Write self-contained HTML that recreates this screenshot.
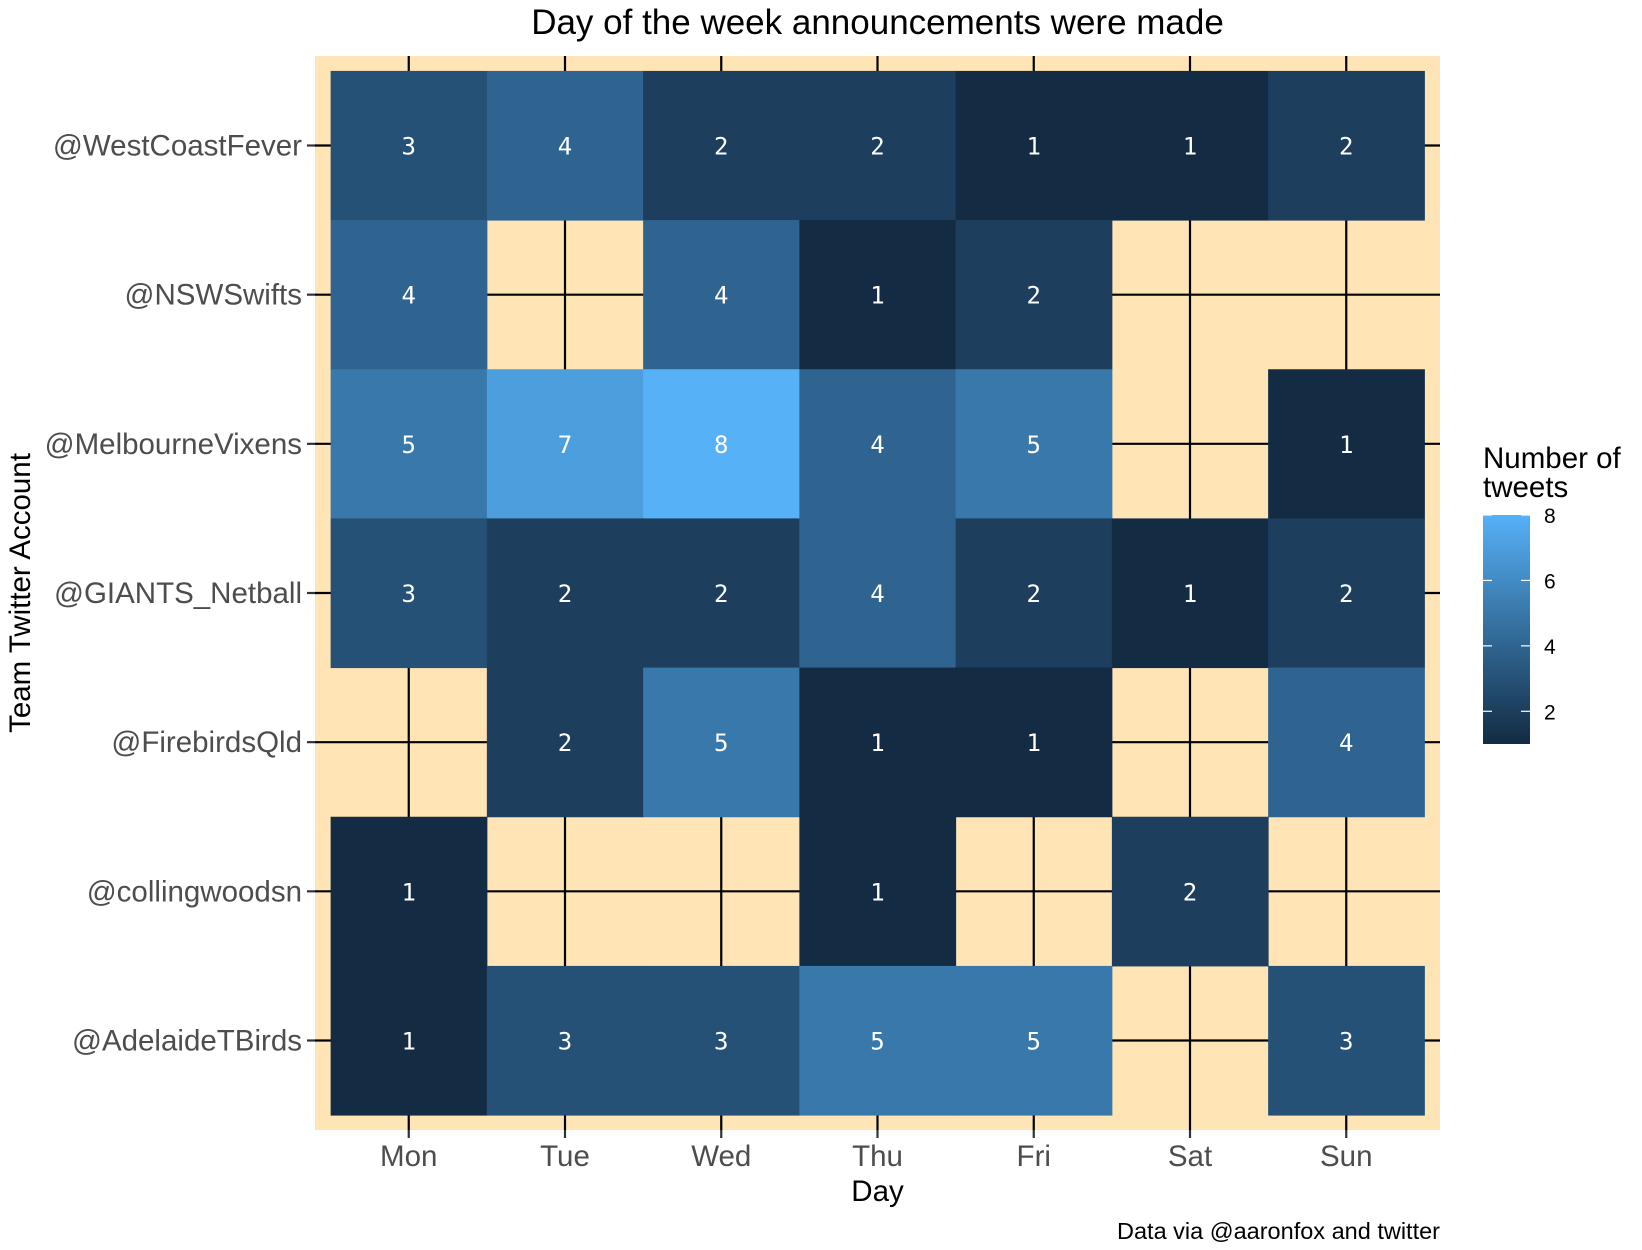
<!DOCTYPE html>
<html><head><meta charset="utf-8"><style>
html,body{margin:0;padding:0;background:#fff;width:1642px;height:1250px;overflow:hidden}
svg{display:block}
</style></head><body>
<svg id="chart" width="1642" height="1250" xmlns="http://www.w3.org/2000/svg"></svg>
<script>
const days = ["Mon","Tue","Wed","Thu","Fri","Sat","Sun"];
const teams = ["@WestCoastFever","@NSWSwifts","@MelbourneVixens","@GIANTS_Netball","@FirebirdsQld","@collingwoodsn","@AdelaideTBirds"];
const rowWestCoast = [3,4,2,2,1,1,2];
const rowNSW = [4,null,4,1,2,null,null];
const rowVixens = [5,7,8,4,5,null,1];
const rowGiants = [3,2,2,4,2,1,2];
const rowFirebirds = [null,2,5,1,1,null,4];
const rowCollingwood = [1,null,null,1,null,2,null];
const rowAdelaide = [1,3,3,5,5,null,3];
const legendTicks = [2,4,6,8];
const rows = [rowWestCoast,rowNSW,rowVixens,rowGiants,rowFirebirds,rowCollingwood,rowAdelaide];
const vmin = 1, vmax = 8;

const NS = "http://www.w3.org/2000/svg";
const svg = document.getElementById('chart');
function mk(tag, attrs, parent){const e=document.createElementNS(NS,tag);for(const k in attrs)e.setAttribute(k,attrs[k]);(parent||svg).appendChild(e);return e;}

const P = {l:315, t:56, r:1440, b:1130};
const colW = (P.r-P.l)/7.2, rowH = (P.b-P.t)/7.2;
const xc = i => P.l + (0.6+i)*colW;
const yc = j => P.t + (0.6+j)*rowH;
const c0=[0x13,0x2B,0x43], c1=[0x56,0xB1,0xF7];
function col(v){const t=(v-vmin)/(vmax-vmin);return 'rgb('+c0.map((a,k)=>Math.round(a+(c1[k]-a)*t)).join(',')+')';}

const panel = mk('rect',{x:P.l,y:P.t,width:P.r-P.l,height:P.b-P.t,fill:'#FFE4B5'});


const ff = '"Liberation Sans", Arial, sans-serif';
days.forEach((d,i)=>{
  const g = mk('line',{x1:xc(i),x2:xc(i),y1:P.t,y2:P.b,stroke:'#000','stroke-width':2.2});
  
  
  const tk = mk('line',{x1:xc(i),x2:xc(i),y1:P.b,y2:P.b+8,stroke:'#333','stroke-width':2.2});
  
  
  const t = mk('text',{x:xc(i),y:P.b+36,'text-anchor':'middle','font-family':ff,'font-size':29.5,fill:'#4D4D4D'});
  t.textContent=d;
  
  
});
teams.forEach((n,j)=>{
  const g = mk('line',{x1:P.l,x2:P.r,y1:yc(j),y2:yc(j),stroke:'#000','stroke-width':2.2});
  
  
  const tk = mk('line',{x1:P.l-8,x2:P.l,y1:yc(j),y2:yc(j),stroke:'#333','stroke-width':2.2});
  
  
  const t = mk('text',{x:P.l-13,y:yc(j)+10,'text-anchor':'end','font-family':ff,'font-size':29.5,fill:'#4D4D4D'});
  t.textContent=n;
  
  
});
rows.forEach((r,j)=>r.forEach((v,i)=>{
  if(v==null) return;
  const c = mk('rect',{x:xc(i)-colW/2,y:yc(j)-rowH/2,width:colW+0.5,height:rowH+0.5,fill:col(v)});
  
  
}));
rows.forEach((r,j)=>r.forEach((v,i)=>{
  if(v==null) return;
  const t = mk('text',{x:xc(i),y:yc(j)+9,'text-anchor':'middle','font-family':'"DejaVu Sans Mono", "Liberation Mono", monospace','font-size':24,fill:'#fff'});
  t.textContent=v;
  
  
}));

let t;
t = mk('text',{x:(P.l+P.r)/2,y:34,'text-anchor':'middle','font-family':ff,'font-size':35,fill:'#000'});
t.textContent='Day of the week announcements were made';


t = mk('text',{x:(P.l+P.r)/2,y:1201,'text-anchor':'middle','font-family':ff,'font-size':29.5,fill:'#000'});
t.textContent='Day';


t = mk('text',{x:0,y:0,'text-anchor':'middle','font-family':ff,'font-size':29.5,fill:'#000',transform:'translate(30,'+((P.t+P.b)/2)+') rotate(-90)'});
t.textContent='Team Twitter Account';


t = mk('text',{x:P.r,y:1239,'text-anchor':'end','font-family':ff,'font-size':23.5,fill:'#000'});
t.textContent='Data via @aaronfox and twitter';



// legend
const L = {x:1483, w:47, top:515, bot:744};
t = mk('text',{x:L.x,y:468,'font-family':ff,'font-size':29.5,fill:'#000'});
t.textContent='Number of';


t = mk('text',{x:L.x,y:497,'font-family':ff,'font-size':29.5,fill:'#000'});
t.textContent='tweets';


const defs = mk('defs',{});
const lg = mk('linearGradient',{id:'lg',x1:0,y1:1,x2:0,y2:0},defs);
mk('stop',{offset:0,'stop-color':col(vmin)},lg);
mk('stop',{offset:1,'stop-color':col(vmax)},lg);
const bar = mk('rect',{x:L.x,y:L.top,width:L.w,height:L.bot-L.top,fill:'url(#lg)'});


const ly = v => L.bot - (v-vmin)/(vmax-vmin)*(L.bot-L.top);
legendTicks.forEach(v=>{
  mk('line',{x1:L.x,x2:L.x+9,y1:ly(v),y2:ly(v),stroke:'#fff','stroke-width':1.2});
  mk('line',{x1:L.x+L.w-9,x2:L.x+L.w,y1:ly(v),y2:ly(v),stroke:'#fff','stroke-width':1.2});
  const tt = mk('text',{x:L.x+L.w+14,y:ly(v)+8,'font-family':ff,'font-size':21,fill:'#000'});
  tt.textContent=v;
  
  
});
</script>
</body></html>
